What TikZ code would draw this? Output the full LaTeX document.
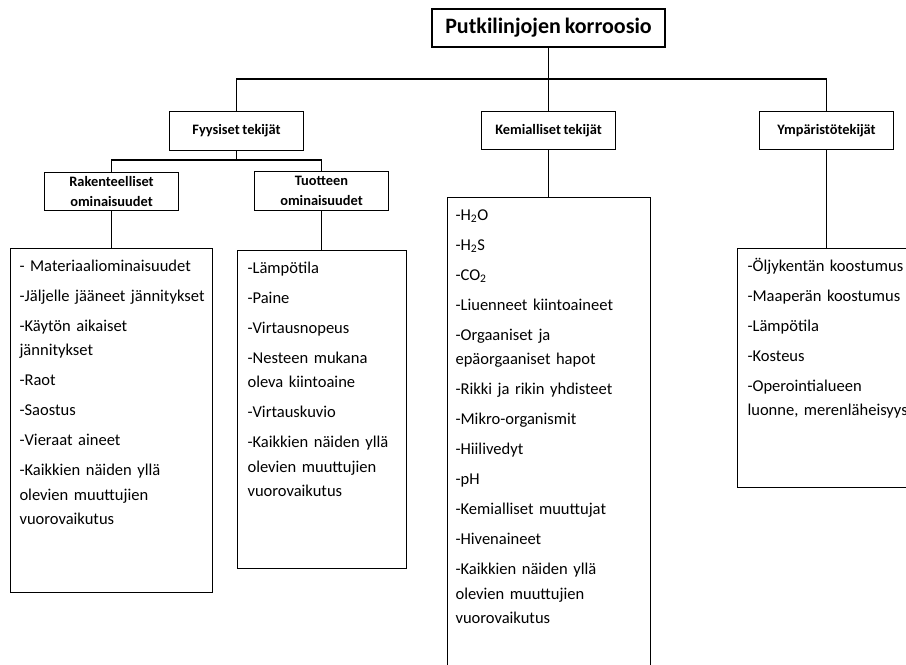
\documentclass[tikz,border=0pt]{standalone}
\usepackage{fontspec}
\setmainfont{Carlito}[WordSpace=0.8]
\usetikzlibrary{positioning,calc}

\begin{document}
\begin{tikzpicture}[x=0.75pt,y=-0.75pt,line width=0.8pt,
  head/.style={draw,align=center,inner sep=0pt,minimum width=100pt,minimum height=29pt,
    font=\bfseries\fontsize{10.8}{15}\selectfont},
  listbox/.style={draw,anchor=north west,inner sep=0pt},
  listtext/.style={anchor=base west,inner sep=0pt,text width=220pt,align=left,
    font=\fontsize{12.4}{18.4}\selectfont}]
  \clip (0,0) rectangle (906,664);
  \node[head,minimum width=174.75pt,minimum height=28.5pt,font=\bfseries\fontsize{16.5}{20}\selectfont]
    (title) at (548.5,28) {Putkilinjojen korroosio};
  \node[head] (fys) at (236.5,131) {Fyysiset tekijät};
  \node[head] (kem) at (548.5,130.5) {Kemialliset tekijät};
  \node[head] (ymp) at (826.5,130.5) {Ympäristötekijät};
  \node[head] (rak) at (111.5,191.5) {Rakenteelliset\\ominaisuudet};
  \node[head] (tuot) at (321.5,191) {Tuotteen\\ominaisuudet};
  % list boxes
  \node[listbox,minimum width=151.5pt,minimum height=258pt] (l1) at (10,248) {};
  \node[listbox,minimum width=126.75pt,minimum height=238.5pt] (l2) at (237,250) {};
  \node[listbox,minimum width=152.25pt,minimum height=377.25pt] (l3) at (447,197) {};
  \node[listbox,minimum width=167.25pt,minimum height=179.25pt] (l4) at (737,248) {};
  \node[listtext] (t1) at ($(l1.north west)+(9,23)$) {- Materiaaliominaisuudet\\[4.1pt]
    -Jäljelle jääneet jännitykset\\[4.1pt]-Käytön aikaiset\\jännitykset\\[4.1pt]-Raot\\[4.1pt]
    -Saostus\\[4.1pt]-Vieraat aineet\\[4.1pt]-Kaikkien näiden yllä\\olevien muuttujien\\vuorovaikutus};
  \node[listtext] (t2) at ($(l2.north west)+(10,23)$) {-Lämpötila\\[4.1pt]-Paine\\[4.1pt]
    -Virtausnopeus\\[4.1pt]-Nesteen mukana\\oleva kiintoaine\\[4.1pt]-Virtauskuvio\\[4.1pt]
    -Kaikkien näiden yllä\\olevien muuttujien\\vuorovaikutus};
  \node[listtext] (t3) at ($(l3.north west)+(8,23)$) {-H\textsubscript{2}O\\[4.1pt]
    -H\textsubscript{2}S\\[4.1pt]-CO\textsubscript{2}\\[4.1pt]-Liuenneet kiintoaineet\\[4.1pt]
    -Orgaaniset ja\\epäorgaaniset hapot\\[4.1pt]-Rikki ja rikin yhdisteet\\[4.1pt]
    -Mikro-organismit\\[4.1pt]-Hiilivedyt\\[4.1pt]-pH\\[4.1pt]-Kemialliset muuttujat\\[4.1pt]
    -Hivenaineet\\[4.1pt]-Kaikkien näiden yllä\\olevien muuttujien\\vuorovaikutus};
  \node[listtext] (t4) at ($(l4.north west)+(10,23)$) {-Öljykentän koostumus\\[4.1pt]
    -Maaperän koostumus\\[4.1pt]-Lämpötila\\[4.1pt]-Kosteus\\[4.1pt]
    -Operointialueen\\luonne, merenläheisyys};
  % connectors
  \coordinate (bus) at (548.5,79);
  \coordinate (fysbus) at (236.5,160);
  \draw (title) -- (kem);
  \draw (fys.north) |- (bus) -| (ymp.north);
  \draw (fys) -- (fysbus);
  \draw (rak.north) |- (fysbus) -| (tuot.north);
  \draw (rak) -- (rak |- l1.north);
  \draw (tuot) -- (tuot |- l2.north);
  \draw (kem) -- (kem |- l3.north);
  \draw (ymp) -- (ymp |- l4.north);
\end{tikzpicture}
\end{document}
